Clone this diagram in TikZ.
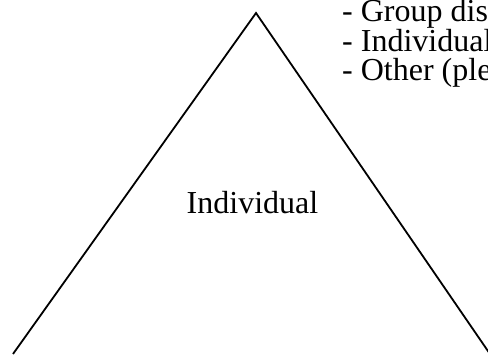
\documentclass[tikz,border=0pt]{standalone}
\usepackage{fontspec}
\setmainfont{Liberation Serif}
\begin{document}
\begin{tikzpicture}[x=1pt,y=1pt,
  edge/.style={line width=1.8pt, line join=miter},
  label/.style={inner sep=0pt, anchor=base west, font=\fontsize{32}{33}\selectfont},
  title/.style={inner sep=0pt, anchor=base, font=\fontsize{32}{33}\selectfont}]
  \useasboundingbox (0,0) rectangle (488,354);
  \clip (0,0) rectangle (488,354);
  % triangle sides, running off the lower edge
  \coordinate (apex) at (256,341);
  \coordinate (bl) at (13,0);
  \coordinate (br) at (490,0);
  \draw[edge] (bl) -- (apex) -- (br);
  % label inside the triangle
  \node[title] (inner) at (252.5,140) {Individual};
  % list beside the apex
  \node[label] (opt1) at (342,332) {- Group dis};
  \node[label] (opt2) at (342,302.5) {- Individual};
  \node[label] (opt3) at (342,273) {- Other (ple};
\end{tikzpicture}
\end{document}
